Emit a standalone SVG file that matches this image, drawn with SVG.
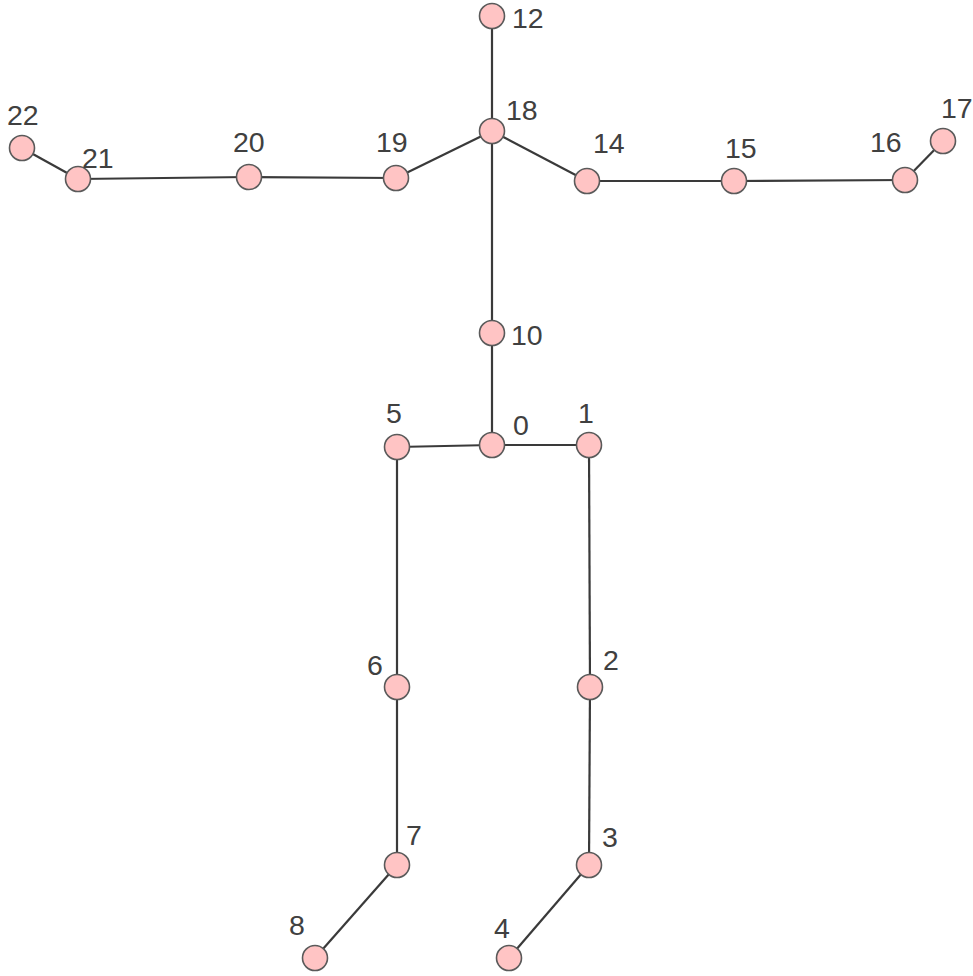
<svg xmlns="http://www.w3.org/2000/svg" width="973" height="976" viewBox="0 0 973 976">
<style>
.e{stroke:#3a3a3a;stroke-width:2.2;fill:none}
.n circle{fill:#ffc4c4;stroke:#5a5a5a;stroke-width:1.6}
.n text{font-family:"Liberation Sans",Arial,sans-serif;font-size:28.5px;fill:#404040}
</style>
<rect width="973" height="976" fill="#ffffff"/>
<g id="connectors">
<line class="e" x1="492" y1="16" x2="492" y2="131"/>
<line class="e" x1="492" y1="131" x2="492" y2="333"/>
<line class="e" x1="492" y1="333" x2="492" y2="445"/>
<line class="e" x1="492" y1="445" x2="397" y2="447"/>
<line class="e" x1="492" y1="445" x2="589" y2="445"/>
<line class="e" x1="397" y1="447" x2="397" y2="687"/>
<line class="e" x1="397" y1="687" x2="397" y2="865"/>
<line class="e" x1="397" y1="865" x2="315" y2="958"/>
<line class="e" x1="589" y1="445" x2="590" y2="687"/>
<line class="e" x1="590" y1="687" x2="589" y2="865"/>
<line class="e" x1="589" y1="865" x2="509" y2="958"/>
<line class="e" x1="492" y1="131" x2="396" y2="178"/>
<line class="e" x1="396" y1="178" x2="249" y2="177"/>
<line class="e" x1="249" y1="177" x2="78" y2="179"/>
<line class="e" x1="78" y1="179" x2="22" y2="148"/>
<line class="e" x1="492" y1="131" x2="587" y2="181"/>
<line class="e" x1="587" y1="181" x2="734" y2="181"/>
<line class="e" x1="734" y1="181" x2="905" y2="180"/>
<line class="e" x1="905" y1="180" x2="943" y2="141"/>
</g>
<g id="n12" class="n"><circle cx="492" cy="16" r="12.5"/><text x="512" y="28">12</text></g>
<g id="n18" class="n"><circle cx="492" cy="131" r="12.5"/><text x="506" y="120">18</text></g>
<g id="n10" class="n"><circle cx="492" cy="333" r="12.5"/><text x="511" y="345">10</text></g>
<g id="n0" class="n"><circle cx="492" cy="445" r="12.5"/><text x="513" y="435">0</text></g>
<g id="n5" class="n"><circle cx="397" cy="447" r="12.5"/><text x="386" y="423">5</text></g>
<g id="n1" class="n"><circle cx="589" cy="445" r="12.5"/><text x="578" y="423">1</text></g>
<g id="n6" class="n"><circle cx="397" cy="687" r="12.5"/><text x="367" y="675">6</text></g>
<g id="n2" class="n"><circle cx="590" cy="687" r="12.5"/><text x="603" y="670">2</text></g>
<g id="n7" class="n"><circle cx="397" cy="865" r="12.5"/><text x="406" y="845">7</text></g>
<g id="n3" class="n"><circle cx="589" cy="865" r="12.5"/><text x="602" y="847">3</text></g>
<g id="n8" class="n"><circle cx="315" cy="958" r="12.5"/><text x="289" y="935">8</text></g>
<g id="n4" class="n"><circle cx="509" cy="958" r="12.5"/><text x="494" y="938">4</text></g>
<g id="n19" class="n"><circle cx="396" cy="178" r="12.5"/><text x="376" y="152">19</text></g>
<g id="n20" class="n"><circle cx="249" cy="177" r="12.5"/><text x="233" y="152">20</text></g>
<g id="n21" class="n"><circle cx="78" cy="179" r="12.5"/><text x="82" y="168">21</text></g>
<g id="n22" class="n"><circle cx="22" cy="148" r="12.5"/><text x="7" y="125">22</text></g>
<g id="n14" class="n"><circle cx="587" cy="181" r="12.5"/><text x="593" y="153">14</text></g>
<g id="n15" class="n"><circle cx="734" cy="181" r="12.5"/><text x="725" y="158">15</text></g>
<g id="n16" class="n"><circle cx="905" cy="180" r="12.5"/><text x="870" y="152">16</text></g>
<g id="n17" class="n"><circle cx="943" cy="141" r="12.5"/><text x="941" y="118">17</text></g>
</svg>
